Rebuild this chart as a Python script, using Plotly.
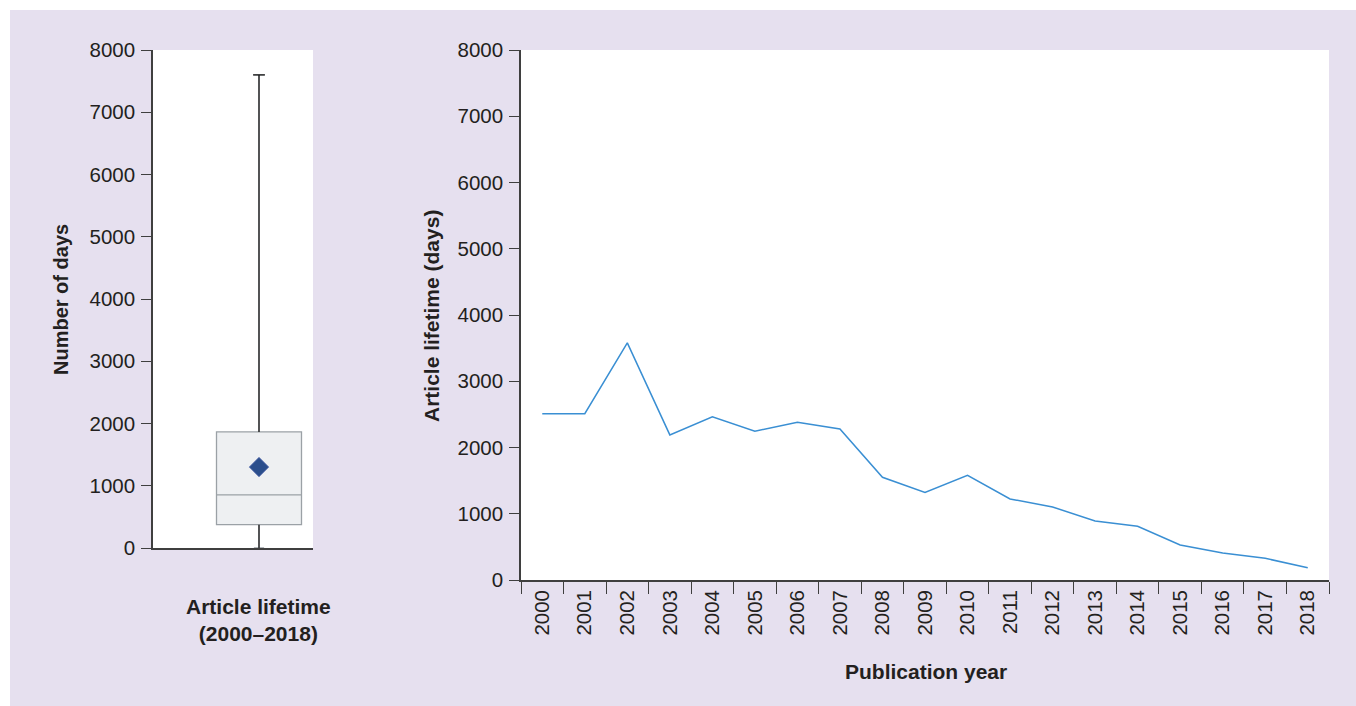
import plotly.graph_objects as go

# ---- data ----
years = [str(y) for y in range(2000, 2019)]
lifetime_days = [2510, 2510, 3580, 2190, 2465, 2245, 2380, 2280, 1550, 1320,
                 1580, 1223, 1102, 891, 810, 528, 408, 327, 186]

box_label = ["Article lifetime"]
box_q1 = [375]
box_median = [855]
box_q3 = [1865]
box_lower = [0]
box_upper = [7600]
box_mean = [1300]

y_ticks = [0, 1000, 2000, 3000, 4000, 5000, 6000, 7000, 8000]

# ---- styling ----
BG = "#E6E0EF"
AXIS = "#3f3f3f"
TXT = "#231f20"
FONT = "Liberation Sans, Arial, sans-serif"
TICK_SIZE = 20.5
TITLE_SIZE = 21

fig = go.Figure()

# Left box plot (numeric x axis, box at x=0)
fig.add_trace(go.Box(
    x=[0], q1=box_q1, median=box_median, q3=box_q3,
    lowerfence=box_lower, upperfence=box_upper,
    width=0.85, whiskerwidth=0.12,
    fillcolor="#EEF0F2", line=dict(color="#9BA1A6", width=1.3),
    boxpoints=False, xaxis="x", yaxis="y", showlegend=False, hoverinfo="skip"))
# whiskers in black over grey
cap = 0.06
fig.add_trace(go.Scatter(
    x=[0, 0, None, 0, 0, None, -cap, cap],
    y=[box_q3[0], box_upper[0], None, box_lower[0], box_q1[0], None, box_upper[0], box_upper[0]],
    mode="lines", line=dict(color="#1a1a1a", width=1.3),
    xaxis="x", yaxis="y", showlegend=False, hoverinfo="skip"))
# mean diamond
fig.add_trace(go.Scatter(
    x=[0], y=box_mean, mode="markers",
    marker=dict(symbol="diamond", size=15, color="#2B4E8C", line=dict(color="#5a6fb0", width=0.8)),
    xaxis="x", yaxis="y", showlegend=False, hoverinfo="skip"))

# Right line chart
fig.add_trace(go.Scatter(
    x=years, y=lifetime_days, mode="lines",
    line=dict(color="#3A8FD3", width=1.5),
    xaxis="x2", yaxis="y2", showlegend=False))

W, H = 1356, 706

def fx(a):
    return a / W
def fy(a):
    return 1 - a / H
def px_x(a, b):
    return [fx(a), fx(b)]
def px_y(top, bottom):
    return [fy(bottom), fy(top)]

common_y = dict(
    range=[0, 8000], tickvals=y_ticks, ticks="outside", ticklen=10, tickwidth=1.3,
    tickcolor=AXIS, showline=True, linecolor=AXIS, linewidth=1.6, showgrid=False,
    zeroline=False, tickfont=dict(size=TICK_SIZE, color=TXT, family=FONT),
    ticklabelstandoff=2, automargin=False)

fig.update_layout(
    width=W, height=H,
    margin=dict(l=0, r=0, t=0, b=0, pad=0, autoexpand=False),
    paper_bgcolor=BG, plot_bgcolor="white",
    font=dict(family=FONT, color=TXT),
    xaxis=dict(domain=px_x(153, 313), range=[-1.06, 0.54], showticklabels=False,
               ticks="", showline=True, linecolor=AXIS, linewidth=1.6, showgrid=False,
               zeroline=False, fixedrange=True, automargin=False),
    yaxis=dict(domain=px_y(50, 548), anchor="x", **common_y),
    xaxis2=dict(domain=px_x(521, 1329), type="category", anchor="y2",
                ticks="outside", tickson="boundaries", ticklen=12, tickwidth=1.3,
                tickcolor=AXIS, showline=True, linecolor=AXIS, linewidth=1.6,
                showgrid=False, tickangle=-90, automargin=False,
                tickfont=dict(size=TICK_SIZE, color=TXT, family=FONT),
                range=[-0.5, 18.5]),
    yaxis2=dict(domain=px_y(50, 580), anchor="x2", **common_y),
    shapes=[
        dict(type="rect", xref="paper", yref="paper",
             x0=0, x1=fx(10), y0=0, y1=1, fillcolor="white", line=dict(width=0), layer="below"),
        dict(type="rect", xref="paper", yref="paper",
             x0=0, x1=1, y0=fy(10), y1=1, fillcolor="white", line=dict(width=0), layer="below"),
    ],
    annotations=[
        dict(text="<b>Number of days</b>", xref="paper", yref="paper",
             x=fx(61), y=fy(300), textangle=-90, showarrow=False,
             font=dict(size=20, color=TXT, family=FONT), xanchor="center", yanchor="middle"),
        dict(text="<b>Article lifetime<br>(2000–2018)</b>", xref="paper", yref="paper",
             x=fx(258), y=fy(620), showarrow=False, align="center",
             font=dict(size=TITLE_SIZE, color=TXT, family=FONT), xanchor="center", yanchor="middle"),
        dict(text="<b>Article lifetime (days)</b>", xref="paper", yref="paper",
             x=fx(431), y=fy(316), textangle=-90, showarrow=False,
             font=dict(size=TITLE_SIZE, color=TXT, family=FONT), xanchor="center", yanchor="middle"),
        dict(text="<b>Publication year</b>", xref="paper", yref="paper",
             x=fx(926), y=fy(671), showarrow=False,
             font=dict(size=TITLE_SIZE, color=TXT, family=FONT), xanchor="center", yanchor="middle"),
    ],
)

fig.write_html(
    "out.html",
    config={"displayModeBar": False},
    post_script="document.body.style.margin='0';document.body.style.overflow='hidden';",
)
